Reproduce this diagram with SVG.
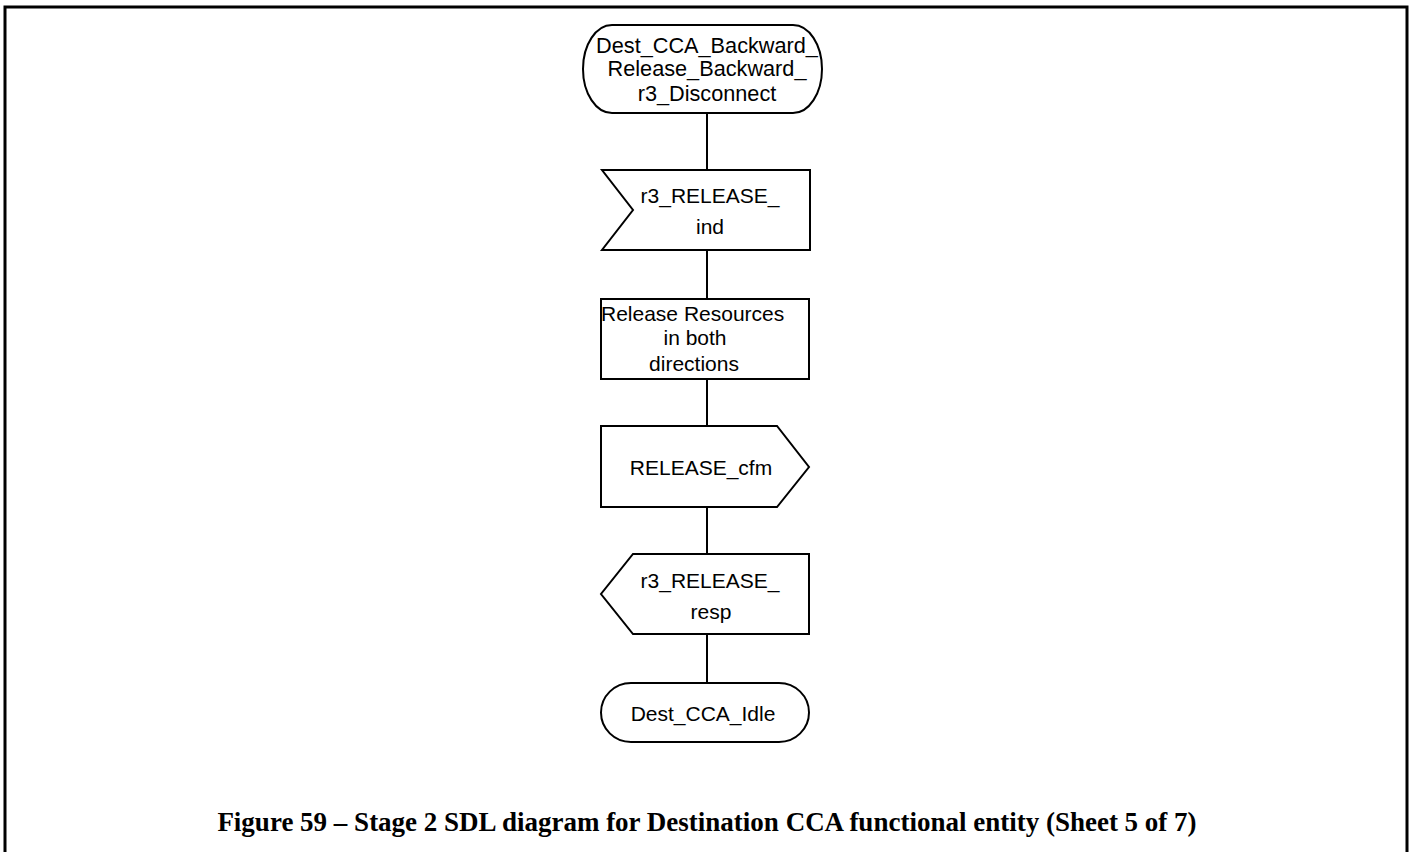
<svg xmlns="http://www.w3.org/2000/svg" width="1414" height="852" viewBox="0 0 1414 852">
<style>
.s{fill:#fff;stroke:#000;stroke-width:2}
.t{font-family:"Liberation Sans",Arial,sans-serif;font-size:21px;fill:#000;text-anchor:middle}
.c{stroke:#000;stroke-width:2;fill:none}
.cap{font-family:"Liberation Serif","Times New Roman",serif;font-size:27px;font-weight:bold;fill:#000;text-anchor:middle}
</style>
<rect x="0" y="0" width="1414" height="852" fill="#fff"/>
<path d="M5,860 V7 H1407 V860" fill="none" stroke="#000" stroke-width="3"/>
<g id="connectors">
<line class="c" x1="707" y1="113" x2="707" y2="170"/>
<line class="c" x1="707" y1="250" x2="707" y2="299"/>
<line class="c" x1="707" y1="379" x2="707" y2="426"/>
<line class="c" x1="707" y1="507" x2="707" y2="554"/>
<line class="c" x1="707" y1="634" x2="707" y2="683"/>
</g>
<g id="start">
<path class="s" d="M612,25 H793 A29,44 0 0 1 793,113 H612 A29,44 0 0 1 612,25 Z"/>
<text class="t" x="707" y="53" style="font-size:21.7px">Dest_CCA_Backward_</text>
<text class="t" x="707" y="76" style="font-size:21.7px">Release_Backward_</text>
<text class="t" x="707" y="101" style="font-size:21.7px">r3_Disconnect</text>
</g>
<g id="input">
<path class="s" d="M602,170 H810 V250 H602 L633,210 Z"/>
<text class="t" x="710" y="203">r3_RELEASE_</text>
<text class="t" x="710" y="234">ind</text>
</g>
<g id="task">
<rect class="s" x="601" y="299" width="208" height="80"/>
<text class="t" x="601" y="321" style="text-anchor:start">Release Resources</text>
<text class="t" x="695" y="345">in both</text>
<text class="t" x="694" y="371">directions</text>
</g>
<g id="output">
<path class="s" d="M601,426 H777 L809,467 L777,507 H601 Z"/>
<text class="t" x="701" y="475">RELEASE_cfm</text>
</g>
<g id="output2">
<path class="s" d="M633,554 H809 V634 H633 L601,594 Z"/>
<text class="t" x="710" y="588">r3_RELEASE_</text>
<text class="t" x="711" y="619">resp</text>
</g>
<g id="end">
<path class="s" d="M631,683 H779 A30,29.5 0 0 1 779,742 H631 A30,29.5 0 0 1 631,683 Z"/>
<text class="t" x="703" y="721">Dest_CCA_Idle</text>
</g>
<text class="cap" x="707" y="831">Figure 59 – Stage 2 SDL diagram for Destination CCA functional entity (Sheet 5 of 7)</text>
</svg>
